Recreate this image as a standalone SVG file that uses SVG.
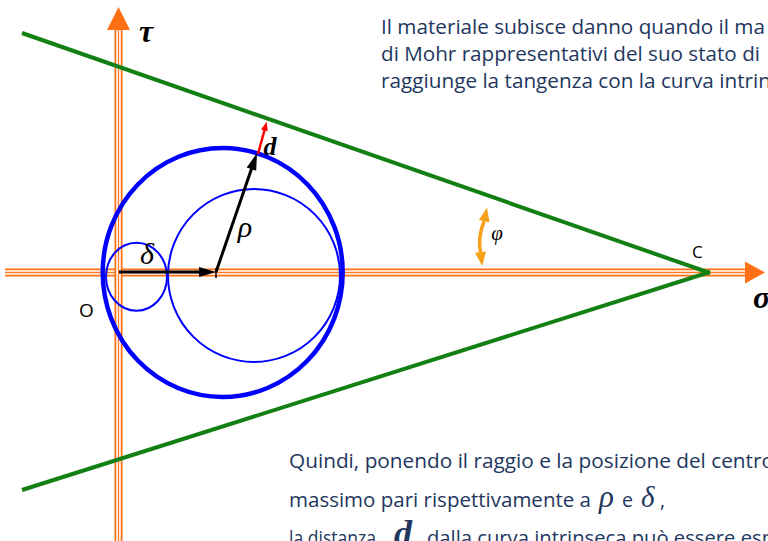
<svg xmlns="http://www.w3.org/2000/svg" width="768" height="541" viewBox="0 0 768 541">
<style>
.ax-o{fill:none;stroke:#ff7014;stroke-width:8}
.ax-w{fill:none;stroke:#ffffff;stroke-width:4.5}
.ax-c{fill:none;stroke:#ff7a24;stroke-width:1.3}
.ax-head{fill:#ff7014}
.green{fill:none;stroke:#128012;stroke-width:4;stroke-linecap:butt}
.blue-thick{fill:none;stroke:#0000ff;stroke-width:4.5}
.blue-thin{fill:none;stroke:#0000ff;stroke-width:2}
.blk{stroke:#000;stroke-width:3;fill:none}
.blk-head{fill:#000}
.red{stroke:#ff0000;stroke-width:2.5;fill:none}
.red-head{fill:#ff0000}
.amber{stroke:#f7a11a;stroke-width:3.5;fill:none}
.amber-head{fill:#f7a11a}
.greek{font-family:"Liberation Serif","DejaVu Serif",serif;font-style:italic;fill:#000}
.greekb{font-family:"Liberation Serif","DejaVu Serif",serif;font-style:italic;font-weight:bold;fill:#000}
.lbl{font-family:"Open Sans","Liberation Sans",sans-serif;fill:#000}
.body{font-family:"Open Sans","Liberation Sans",sans-serif;font-size:19.5px;fill:#22375e}
.bgreek{font-family:"Liberation Serif","DejaVu Serif",serif;font-style:italic;fill:#22375e}
</style>

<g id="sigma-axis">
  <line class="ax-o" x1="5" y1="272.5" x2="746" y2="272.5"/>
  <line class="ax-w" x1="5" y1="272.5" x2="746" y2="272.5"/>
  <line class="ax-c" x1="5" y1="272.5" x2="746" y2="272.5"/>
  <polygon class="ax-head" points="765,272.5 745,261.5 745,283.5"/>
  <text class="greekb" x="753" y="308" font-size="32">σ</text>
</g>

<g id="tau-axis">
  <line class="ax-o" x1="118.5" y1="541" x2="118.5" y2="29"/>
  <line class="ax-w" x1="118.5" y1="541" x2="118.5" y2="29"/>
  <line class="ax-c" x1="118.5" y1="541" x2="118.5" y2="29"/>
  <polygon class="ax-head" points="118.5,7 107,30 130,30"/>
  <text class="greekb" x="139" y="42" font-size="32">τ</text>
</g>

<g id="origin">
  <text class="lbl" x="79" y="317" font-size="19">O</text>
</g>

<g id="circles">
  <ellipse id="circle-small" class="blue-thin" cx="136.5" cy="276.7" rx="30.5" ry="34"/>
  <ellipse id="circle-medium" class="blue-thin" cx="254" cy="275.5" rx="86" ry="86.5"/>
  <ellipse id="circle-envelope" class="blue-thick" cx="222.7" cy="272.5" rx="120" ry="124.5"/>
</g>

<g id="intrinsic-curve">
  <line class="green" x1="22" y1="33" x2="710" y2="273"/>
  <line class="green" x1="22" y1="490" x2="710" y2="272"/>
  <text class="lbl" x="692" y="258" font-size="17">C</text>
</g>

<g id="connectors">
  <g id="delta-arrow">
    <line class="blk" x1="119" y1="272" x2="201" y2="272"/>
    <polygon class="blk-head" points="216,272 199,267 199,277"/>
    <line stroke="#000" stroke-width="1.5" x1="216" y1="268" x2="216" y2="278"/>
  </g>
  <g id="rho-arrow">
    <line class="blk" x1="216" y1="272" x2="252.5" y2="166"/>
    <polygon class="blk-head" points="257,153 256.2,170.7 246.7,167.4"/>
  </g>
  <g id="d-arrow">
    <line class="red" x1="258" y1="154" x2="264.8" y2="129"/>
    <polygon class="red-head" points="266.7,121.7 267.7,131.3 261,129.5"/>
  </g>
  <g id="phi-arrow">
    <path class="amber" d="M484.2 221 Q477.5 237 480.5 252.5"/>
    <polygon class="amber-head" points="487,207.5 489.5,222.3 478.8,220.1"/>
    <polygon class="amber-head" points="482.3,266 486,251.4 475,252.8"/>
  </g>
</g>

<g id="labels">
  <text class="greek" x="147" y="264" font-size="30" text-anchor="middle">δ</text>
  <text class="greek" x="245" y="237" font-size="30" text-anchor="middle">ρ</text>
  <text class="greekb" x="270" y="155" font-size="26" text-anchor="middle">d</text>
  <text class="greek" x="497" y="240" font-size="21" text-anchor="middle">φ</text>
</g>

<g id="text-top">
  <text class="body" x="381" y="33.5" textLength="384" lengthAdjust="spacingAndGlyphs">Il materiale subisce danno quando il ma</text>
  <text class="body" x="381" y="60.5" textLength="379" lengthAdjust="spacingAndGlyphs">di Mohr rappresentativi del suo stato di</text>
  <text class="body" x="381" y="87.5" textLength="390" lengthAdjust="spacingAndGlyphs">raggiunge la tangenza con la curva intrin</text>
</g>

<g id="text-bottom">
  <text class="body" x="289" y="468" textLength="485" lengthAdjust="spacingAndGlyphs">Quindi, ponendo il raggio e la posizione del centro</text>
  <text class="body" x="289" y="507" textLength="302" lengthAdjust="spacingAndGlyphs">massimo pari rispettivamente a</text>
  <text class="bgreek" x="599" y="507" font-size="31">ρ</text>
  <text class="body" x="622" y="507">e</text>
  <text class="bgreek" x="641" y="507" font-size="29">δ</text>
  <text class="body" x="660" y="507">,</text>
  <text class="body" x="289" y="545" textLength="87" lengthAdjust="spacingAndGlyphs">la distanza</text>
  <text class="bgreek" x="394" y="545" font-size="36" font-weight="bold">d</text>
  <text class="body" x="427" y="545" textLength="347" lengthAdjust="spacingAndGlyphs">dalla curva intrinseca può essere esp</text>
</g>
</svg>
